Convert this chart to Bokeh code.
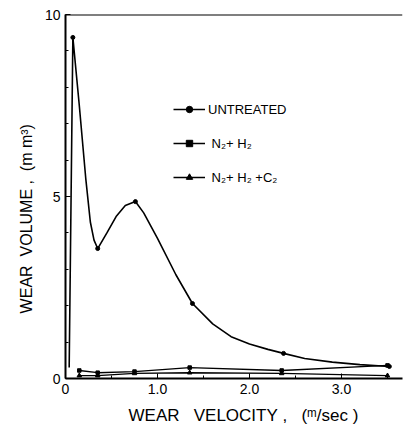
from bokeh.plotting import figure
from bokeh.models import Range1d, FixedTicker, Span, Legend, LegendItem
from bokeh.embed import file_html
from bokeh.resources import INLINE

# measured points
untreated_x = [0.08, 0.35, 0.76, 1.38, 2.37, 3.52]
untreated_y = [9.37, 3.57, 4.86, 2.06, 0.69, 0.33]

# curve of the untreated series
untreated_curve_x = [0.04, 0.08, 0.15, 0.22, 0.27, 0.31, 0.35, 0.45, 0.55, 0.65, 0.76,
                     0.85, 1.0, 1.2, 1.38, 1.6, 1.8, 2.0, 2.2, 2.37, 2.6, 2.9, 3.2, 3.52]
untreated_curve_y = [0.3, 9.37, 7.5, 5.5, 4.3, 3.8, 3.57, 4.0, 4.45, 4.75, 4.86,
                     4.55, 3.85, 2.85, 2.06, 1.5, 1.15, 0.95, 0.8, 0.69, 0.55, 0.45, 0.38, 0.33]

n2h2_x = [0.15, 0.35, 0.75, 1.35, 2.35, 3.5]
n2h2_y = [0.22, 0.16, 0.19, 0.30, 0.22, 0.36]

n2h2c2_x = [0.15, 0.35, 0.75, 1.35, 2.35, 3.5]
n2h2c2_y = [0.08, 0.08, 0.14, 0.16, 0.14, 0.08]

x_ticks = [0, 1, 2, 3]
x_tick_labels = ["0", "1.0", "2.0", "3.0"]
x_minor = [0.5, 1.5, 2.5, 3.5]
y_ticks = [0, 5, 10]
y_minor = list(range(11))

FONT = "Liberation Sans"
NB = "\u00a0"

p = figure(width=404, height=427, output_backend="svg", toolbar_location=None,
           x_range=Range1d(0, 3.663), y_range=Range1d(0, 10),
           min_border_left=65, min_border_right=2, min_border_top=14, min_border_bottom=49)
p.grid.visible = False
p.outline_line_color = None
p.background_fill_color = "white"

p.add_layout(Span(location=10, dimension="width", line_color="black", line_width=2))

for ax in (p.xaxis[0], p.yaxis[0]):
    ax.axis_line_width = 2
    ax.axis_line_color = "black"
    ax.major_tick_in = 5
    ax.major_tick_out = 0
    ax.minor_tick_in = 3
    ax.minor_tick_out = 0
    ax.major_tick_line_color = "black"
    ax.minor_tick_line_color = "black"
    ax.major_label_text_font = FONT
    ax.major_label_text_font_size = "14px"
    ax.major_label_text_color = "black"
    ax.axis_label_text_font = FONT
    ax.axis_label_text_font_style = "normal"
    ax.axis_label_text_color = "black"

p.xaxis[0].ticker = FixedTicker(ticks=x_ticks, minor_ticks=x_minor)
p.xaxis[0].major_label_overrides = {t: l for t, l in zip(x_ticks, x_tick_labels)}
p.xaxis[0].major_label_standoff = 5
p.xaxis[0].axis_label = NB * 4 + "WEAR" + NB * 3 + "VELOCITY" + NB + "," + NB * 3 + "(\u1d50/sec" + NB + ")"
p.xaxis[0].axis_label_text_font_size = "17px"
p.xaxis[0].axis_label_standoff = 9

p.yaxis[0].ticker = FixedTicker(ticks=y_ticks, minor_ticks=y_minor)
p.yaxis[0].major_label_standoff = 5
p.yaxis[0].axis_label = "WEAR" + NB * 2 + "VOLUME" + NB + "," + NB * 2 + "(m" + NB + "m\u00b3)" + NB * 10
p.yaxis[0].axis_label_text_font_size = "16px"
p.yaxis[0].axis_label_standoff = 7

# untreated
l1 = p.line(untreated_curve_x, untreated_curve_y, line_color="black", line_width=1.6)
m1 = p.scatter(untreated_x, untreated_y, marker="circle", size=4, color="black")
# N2 + H2
l2 = p.line(n2h2_x, n2h2_y, line_color="black", line_width=1.4)
m2 = p.scatter(n2h2_x, n2h2_y, marker="square", size=3.5, color="black")
# N2 + H2 + C2
l3 = p.line(n2h2c2_x, n2h2c2_y, line_color="black", line_width=1.4)
m3 = p.scatter(n2h2c2_x, n2h2c2_y, marker="triangle", size=4.5, color="black")

legend = Legend(items=[
    LegendItem(label="UNTREATED", renderers=[l1, m1]),
    LegendItem(label=NB + "N\u2082+ H\u2082", renderers=[l2, m2]),
    LegendItem(label=NB + "N\u2082+ H\u2082 +C\u2082", renderers=[l3, m3]),
], location=(108, 193))
legend.border_line_color = None
legend.background_fill_alpha = 0
legend.padding = 0
legend.margin = 0
legend.spacing = 18
legend.glyph_width = 32
legend.glyph_height = 16
legend.label_height = 16
legend.label_standoff = 3
legend.label_text_font = FONT
legend.label_text_font_size = "13px"
legend.label_text_color = "black"
p.add_layout(legend, "center")

open("out.html", "w").write(file_html(p, INLINE))
